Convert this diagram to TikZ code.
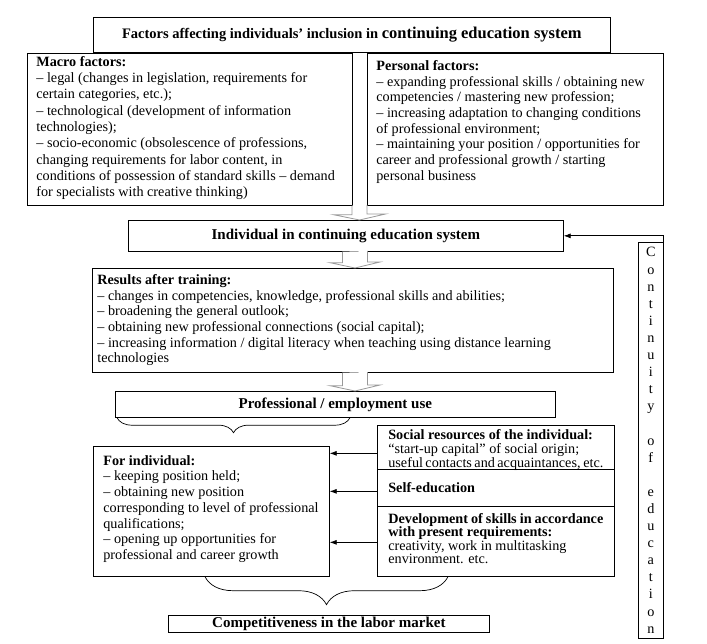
\documentclass[tikz,border=0pt]{standalone}
\usepackage{fontspec}
\setmainfont{Liberation Serif}
\usetikzlibrary{arrows.meta,calc,decorations.pathreplacing}
\newcommand{\bodysize}{\fontsize{14.2}{15.7}\selectfont}
\newcommand{\tightsize}{\fontsize{14.2}{14}\selectfont}
\newcommand{\headsize}{\fontsize{15}{17}\selectfont}
\tikzset{
  box/.style={draw=black, line width=0.7pt, anchor=north west, inner sep=0pt, font=\bodysize},
  head/.style={box, align=center, font=\headsize\bfseries},
  txt/.style={box, inner xsep=9pt, inner ysep=5pt},
  arr/.style={-{Latex[length=7pt,width=5pt]}, draw=black, line width=0.7pt},
  hollow/.style={draw=black!40, fill=white, line width=0.8pt},
  brc/.style={decorate, decoration={brace, mirror, amplitude=#1}, draw=black, line width=0.7pt}
}

\begin{document}
\begin{tikzpicture}[x=1pt,y=-1pt]
  \useasboundingbox (0,0) rectangle (707,644);
  % factors
  \node[head, minimum width=517pt, minimum height=35pt, font=\fontsize{14.5}{17}\selectfont\bfseries] (title) at (93,17)
    {Factors affecting individuals’ inclusion in {\fontsize{16.5}{17}\selectfont continuing education system}};
  \node[txt, inner ysep=3pt, minimum width=325pt, minimum height=152pt, font=\fontsize{14.2}{16.3}\selectfont] (macro) at (27,53)
    {\parbox[t][146pt][t]{307pt}{%
    \textbf{Macro factors:}\\
    – legal (changes in legislation, requirements for\\
    certain categories, etc.);\\
    – technological (development of information\\
    technologies);\\
    – socio-economic (obsolescence of professions,\\
    changing requirements for labor content, in\\
    conditions of possession of standard skills – demand\\
    for specialists with creative thinking)}};
  \node[txt, inner ysep=7pt, minimum width=296pt, minimum height=152pt] (pers) at (367,53)
    {\parbox[t][138pt][t]{278pt}{%
    \textbf{Personal factors:}\\
    – expanding professional skills / obtaining new\\
    competencies / mastering new profession;\\
    – increasing adaptation to changing conditions\\
    of professional environment;\\
    – maintaining your position / opportunities for\\
    career and professional growth / starting\\
    personal business}};
  % individual and results
  \node[head, minimum width=435pt, minimum height=31pt] (indiv) at (128,220) {Individual in continuing education system};
  \node[txt, inner xsep=5pt, inner ysep=6pt, minimum width=521pt, minimum height=104pt] (results) at (92,268)
    {\parbox[t][92pt][t]{511pt}{%
    \textbf{Results after training:}\\
    – changes in competencies, knowledge, professional skills and abilities;\\
    – broadening the general outlook;\\
    – obtaining new professional connections (social capital);\\
    – increasing information / digital literacy when teaching using distance learning\\
    technologies}};
  \node[head, minimum width=440pt, minimum height=26pt] (prof) at (115,391) {Professional / employment use};
  % use of training
  \node[txt, inner xsep=10pt, inner ysep=9pt, minimum width=236pt, minimum height=130pt] (forind) at (93,446)
    {\parbox[t][112pt][t]{216pt}{%
    \textbf{For individual:}\\
    – keeping position held;\\
    – obtaining new position\\
    corresponding to level of professional\\
    qualifications;\\
    – opening up opportunities for\\
    professional and career growth}};
  \node[txt, inner xsep=11pt, inner ysep=4pt, minimum width=237pt, minimum height=44pt, font=\tightsize] (social) at (377,425)
    {\parbox[t][36pt][t]{215pt}{%
    \textbf{Social resources of the individual:}\\
    “start-up capital” of social origin;\\
    useful contacts and acquaintances, etc.}};
  \node[txt, inner xsep=11pt, inner ysep=0pt, minimum width=237pt, minimum height=37pt] (selfed) at (377,469)
    {\parbox{215pt}{\textbf{Self-education}}};
  \node[txt, inner xsep=11pt, inner ysep=7pt, minimum width=237pt, minimum height=70pt,
    font=\fontsize{14.2}{13.5}\selectfont] (devel) at (377,506)
    {\parbox[t][56pt][t]{215pt}{%
    \textbf{Development of skills in accordance}\\
    \textbf{with present requirements:}\\
    creativity, work in multitasking\\
    environment. etc.}};
  \node[head, minimum width=321pt, minimum height=17pt] (comp) at (168,615) {Competitiveness in the labor market};
  \node[box, minimum width=25pt, minimum height=396pt, align=center, font=\fontsize{14.2}{17.1}\selectfont] (cont) at (638,242)
    {C\\o\\n\\t\\i\\n\\u\\i\\t\\y\\[17.1pt]o\\f\\[17.1pt]e\\d\\u\\c\\a\\t\\i\\o\\n};

  % hollow arrows
  \coordinate (c1) at (359.5,0);
  \coordinate (c2) at (355,0);
  \draw[hollow] ($(macro.south -| c1)+(-7.5,0)$) -- ++(0,9) -- ++(-18.5,0) -- (indiv.north -| c1)
    -- ++(26,-6) -- ++(-18.5,0) -- ++(0,-9);
  \draw[hollow] ($(indiv.south -| c2)+(-12.5,0)$) -- ++(0,11) -- ++(-12.5,0) -- (results.north -| c2)
    -- ++(25,-6) -- ++(-12.5,0) -- ++(0,-11);
  \draw[hollow] ($(results.south -| c2)+(-12.5,0)$) -- ++(0,13) -- ++(-12.5,0) -- (prof.north -| c2)
    -- ++(25,-6) -- ++(-12.5,0) -- ++(0,-13);

  % braces
  \draw[brc=15] ($(prof.south west)+(2,0)$) -- ++(233,0);
  \draw[brc=28] ($(forind.south west)+(112,0)$) -- ($(devel.south west)+(71,0)$);

  % arrows
  \coordinate (s1) at ($(social.west)+(0,6)$);
  \coordinate (s2) at ($(selfed.west)+(0,3.5)$);
  \coordinate (s3) at ($(devel.west)+(0,1)$);
  \draw[arr] (s1) -- (s1 -| forind.east);
  \draw[arr] (s2) -- (s2 -| forind.east);
  \draw[arr] (s3) -- (s3 -| forind.east);
  \draw[arr] (cont.north east) |- (indiv.east);
\end{tikzpicture}
\end{document}
